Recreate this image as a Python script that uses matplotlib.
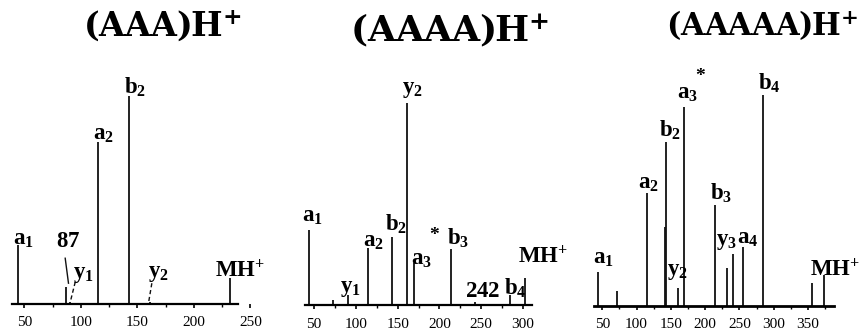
import matplotlib.pyplot as plt

plt.rcParams.update({
    'font.family': 'Liberation Serif',
    'mathtext.fontset': 'custom',
    'mathtext.rm': 'Liberation Serif',
    'mathtext.bf': 'Liberation Serif:bold',
    'mathtext.it': 'Liberation Serif:italic',
    # wide bold face for the panel titles
    'mathtext.sf': 'DejaVu Serif:bold',
})

# (AAA)H+
mz_aaa = [44, 87, 90, 115, 143, 161, 232]
int_aaa = [28.4, 8.2, 1.0, 78, 100, 1.0, 12.5]

# (AAAA)H+
mz_aaaa = [44, 72, 90, 115, 143, 161, 169, 214, 242, 285, 303]
int_aaaa = [37.1, 2.5, 5.0, 28.2, 33.7, 100, 20.8, 27.7, 1.5, 5.0, 13.4]

# (AAAAA)H+
mz_a5 = [44, 72, 115, 141, 143, 160, 169, 214, 232, 240, 256, 285, 356, 374]
int_a5 = [16.1, 7.0, 53.6, 37.4, 77.7, 8.5, 94.3, 47.9, 18.0, 24.6, 28.0, 100, 11.0, 14.7]

titles = [r'$\mathsf{(AAA)H}^{\mathsf{+}}$',
          r'$\mathsf{(AAAA)H}^{\mathsf{+}}$',
          r'$\mathsf{(AAAAA)H}^{\mathsf{+}}$']

ticks_aaa = [50, 100, 150, 200, 250]
ticks_aaaa = [50, 100, 150, 200, 250, 300]
ticks_a5 = [50, 100, 150, 200, 250, 300, 350]


def ion(s, n=None):
    if n is None:
        return r'$\mathbf{%s}$' % s
    return r'$\mathbf{%s}_{\mathbf{%s}}$' % (s, n)


MH = r'$\mathbf{MH}^{\mathbf{+}}$'

# label: (peak m/z, text, dx, dy, ha)
labels_aaa = [
    (44, ion('a', 1), -3.8, 0.0, 'left'),
    (87, ion('87'), 1.8, 19.2, 'center'),
    (90, ion('y', 1), 3.4, 11.5, 'left'),
    (115, ion('a', 2), -4.3, 0.8, 'left'),
    (143, ion('b', 2), -4.6, 1.0, 'left'),
    (161, ion('y', 2), -1.4, 12.0, 'left'),
    (232, MH, -13.2, 0.5, 'left'),
]
labels_aaaa = [
    (44, ion('a', 1), -8.7, 3.9, 'left'),
    (90, ion('y', 1), -9.0, 1.6, 'left'),
    (115, ion('a', 2), -7.0, 0.7, 'left'),
    (143, ion('b', 2), -8.0, 3.3, 'left'),
    (161, ion('y', 2), -6.0, 5.0, 'left'),
    (169, ion('a', 3), -3.2, -1.0, 'left'),
    (214, ion('b', 3), -5.1, 2.0, 'left'),
    (242, ion('242'), -12.0, 2.6, 'left'),
    (285, ion('b', 4), -8.3, 0.0, 'left'),
    (303, MH, -9.1, 7.2, 'left'),
]
labels_a5 = [
    (44, ion('a', 1), -7.7, 4.1, 'left'),
    (115, ion('a', 2), -13.0, 2.2, 'left'),
    (143, ion('b', 2), -9.5, 2.5, 'left'),
    (160, ion('y', 2), -15.7, 6.2, 'left'),
    (169, ion('a', 3), -10.1, 4.1, 'left'),
    (214, ion('b', 3), -7.5, 2.3, 'left'),
    (232, ion('y', 3), -15.7, 10.9, 'left'),
    (256, ion('a', 4), -9.5, 1.7, 'left'),
    (285, ion('b', 4), -8.0, 2.4, 'left'),
    (374, MH, -21.5, -0.5, 'left'),
]

# leader lines: (peak m/z, (dx0, dy0), (dx1, dy1), linestyle)
leaders_aaa = [
    (87, (-0.9, 13.8), (2.0, 1.8), '-'),
    (90, (5.0, 9.6), (0.6, 0.0), '--'),
    (161, (1.8, 9.0), (-1.0, 0.0), '--'),
]

# asterisk next to a3
stars = {1: (169, 24.7, 13.8), 2: (169, 23.9, 14.7)}

W, H = 866, 332
fig = plt.figure(figsize=(W / 100, H / 100), dpi=100)

# axes boxes in pixels: left, bottom, width, height
boxes = [(12, 28, 244, 208), (305, 27, 228, 202), (594, 26, 240, 211)]
xlims = [(39, 255), (39, 312), (38, 388)]
spine_ends = [239, 311, 388]
title_pos = [(162, 36), (450, 41), (762, 35)]
title_size = [24, 26, 22]

panels = [
    (mz_aaa, int_aaa, ticks_aaa, labels_aaa, leaders_aaa),
    (mz_aaaa, int_aaaa, ticks_aaaa, labels_aaaa, []),
    (mz_a5, int_a5, ticks_a5, labels_a5, []),
]

for i, (mz, inten, ticks, labels, leaders) in enumerate(panels):
    l, b, w, h = boxes[i]
    ax = fig.add_axes([l / W, b / H, w / W, h / H])
    ax.vlines(mz, 0, inten, colors='#111111', lw=1.3)
    ax.set_xlim(*xlims[i])
    ax.set_ylim(0, 100)
    for s in ['top', 'right', 'left']:
        ax.spines[s].set_visible(False)
    ax.spines['bottom'].set_bounds(xlims[i][0], spine_ends[i])
    ax.spines['bottom'].set_linewidth(1.6 if i < 2 else 2.0)
    ax.set_yticks([])
    ax.set_xticks(ticks)
    ax.set_xticks([t + 25 for t in ticks if t + 25 < spine_ends[i]], minor=True)
    ax.tick_params(axis='x', which='major', direction='out', length=3,
                   width=1.2, labelsize=11, pad=6)
    ax.tick_params(axis='x', which='minor', direction='out', length=2,
                   width=1.0)
    ax.patch.set_alpha(0)

    heights = dict(zip(mz, inten))
    for m, txt, dx, dy, ha in labels:
        ax.text(m + dx, heights[m] + dy, txt, fontsize=16.5, ha=ha,
                va='baseline', clip_on=False)
    for m, (x0, y0), (x1, y1), ls in leaders:
        ax.plot([m + x0, m + x1], [heights[m] + y0, heights[m] + y1],
                color='#111111', lw=1.0, ls=ls,
                dashes=(3, 2) if ls == '--' else (None, None), clip_on=False)
    if i in stars:
        m, dx, dy = stars[i]
        ax.text(m + dx, heights[m] + dy, '*', fontsize=14, fontweight='bold',
                ha='center', va='center', clip_on=False)

    tx, ty = title_pos[i]
    fig.text(tx / W, 1 - ty / H, titles[i], fontsize=title_size[i],
             ha='center', va='baseline')

fig.savefig('out.png', dpi=100)
